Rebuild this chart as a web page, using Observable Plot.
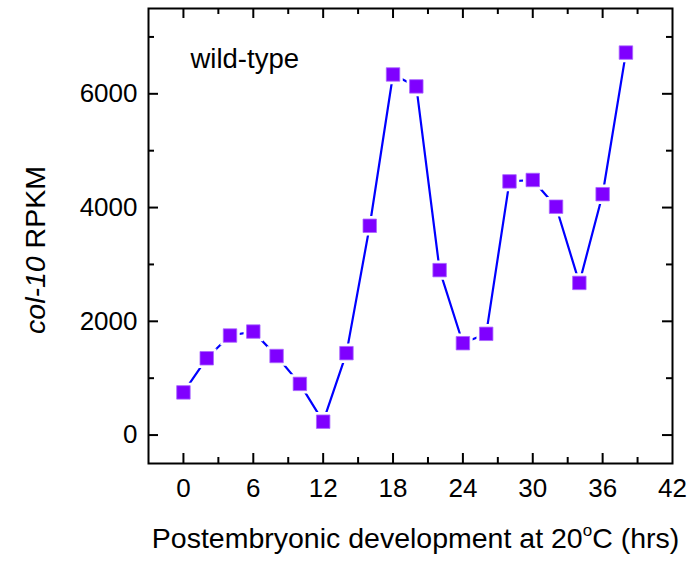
<!DOCTYPE html>
<html><head><meta charset="utf-8">
<script src="https://cdn.jsdelivr.net/npm/d3@7"></script>
<script src="https://cdn.jsdelivr.net/npm/@observablehq/plot@0.6"></script>
<style>body{margin:0;background:#fff;font-family:"Liberation Sans",Arial,sans-serif}</style>
</head><body><div id="chart"></div>
<script>
const hours = [0, 2, 4, 6, 8, 10, 12, 14, 16, 18, 20, 22, 24, 26, 28, 30, 32, 34, 36, 38];
const rpkm = [750, 1350, 1750, 1820, 1390, 900, 235, 1440, 3680, 6340, 6130, 2900, 1615, 1780, 4460, 4485, 4015, 2675, 4235, 6725];
const xTickLabels = [0, 6, 12, 18, 24, 30, 36, 42];
const xMinorTicks = [3, 9, 15, 21, 27, 33, 39];
const yTickLabels = [0, 2000, 4000, 6000];
const yMinorTicks = [1000, 3000, 5000, 7000];
const xTitle = "Postembryonic development at 20oC (hrs)";
const yTitleItalic = "col-10";
const yTitleRest = " RPKM";
const annotation = "wild-type";

const data = hours.map((h, i) => ({h, v: rpkm[i]}));

const W = 690, H = 562;
const mL = 148, mR = 18, mT = 8, mB = 99;
const fw = W - mL - mR, fh = H - mT - mB;
const major = 10, minor = 6;
const font = "Liberation Sans, Arial, sans-serif";

const chart = Plot.plot({
  width: W, height: H,
  marginLeft: mL, marginRight: mR, marginTop: mT, marginBottom: mB,
  style: {fontFamily: font, background: "white", color: "black"},
  x: {domain: [-3, 42], label: null},
  y: {domain: [-500, 7500], label: null},
  marks: [
    Plot.tickX(xTickLabels.slice(0, -1), {x: d => d, insetTop: fh - major, stroke: "black", strokeWidth: 2}),
    Plot.tickX(xMinorTicks, {x: d => d, insetTop: fh - minor, stroke: "black", strokeWidth: 2}),
    Plot.tickX(xTickLabels.slice(0, -1), {x: d => d, insetBottom: fh - major, stroke: "black", strokeWidth: 2}),
    Plot.tickX(xMinorTicks, {x: d => d, insetBottom: fh - minor, stroke: "black", strokeWidth: 2}),
    Plot.tickY(yTickLabels, {y: d => d, insetRight: fw - major, stroke: "black", strokeWidth: 2}),
    Plot.tickY(yMinorTicks, {y: d => d, insetRight: fw - minor, stroke: "black", strokeWidth: 2}),
    Plot.tickY(yTickLabels, {y: d => d, insetLeft: fw - major, stroke: "black", strokeWidth: 2}),
    Plot.tickY(yMinorTicks, {y: d => d, insetLeft: fw - minor, stroke: "black", strokeWidth: 2}),
    Plot.axisX(xTickLabels, {tickSize: 0, tickPadding: 15, fontSize: 26, label: null, tickFormat: d => String(d)}),
    Plot.axisY(yTickLabels, {tickSize: 0, tickPadding: 11, fontSize: 26, label: null, tickFormat: d => String(d)}),
    Plot.frame({stroke: "black", strokeWidth: 2}),
    Plot.line(data, {x: "h", y: "v", stroke: "#0000ff", strokeWidth: 2.2}),
    Plot.dot(data, {x: "h", y: "v", symbol: "square", r: 7.6, fill: "white", stroke: "white", strokeWidth: 6}),
    Plot.dot(data, {x: "h", y: "v", symbol: "square", r: 7.6, fill: "#7f00ff", stroke: "#a866ff", strokeWidth: 0.8}),
    Plot.text([annotation], {frameAnchor: "top-left", textAnchor: "start", lineAnchor: "top", dx: 42, dy: 40, fontSize: 27.5, fill: "black"}),
    Plot.text([xTitle], {frameAnchor: "bottom", textAnchor: "middle", lineAnchor: "bottom", dy: 84, dx: 5, fontSize: 28.5, fill: "black"}),
    Plot.text([yTitleItalic + yTitleRest], {frameAnchor: "left", textAnchor: "middle", lineAnchor: "bottom", rotate: -90, dx: -104, dy: 14, fontSize: 28.5, fill: "black"})
  ]
});

// rich text: superscript degree "o" and italic gene name
d3.select(chart).selectAll("text").each(function() {
  const t = this.textContent;
  if (t === xTitle) {
    const s = d3.select(this); s.text(null);
    s.append("tspan").text("Postembryonic development at 20");
    s.append("tspan").attr("dy", -12).attr("font-size", 17).text("o");
    s.append("tspan").attr("dy", 12).text("C (hrs)");
  } else if (t === yTitleItalic + yTitleRest) {
    const s = d3.select(this); s.text(null);
    s.append("tspan").attr("font-style", "italic").text(yTitleItalic);
    s.append("tspan").text(yTitleRest);
  }
});
document.getElementById("chart").appendChild(chart);
</script></body></html>
